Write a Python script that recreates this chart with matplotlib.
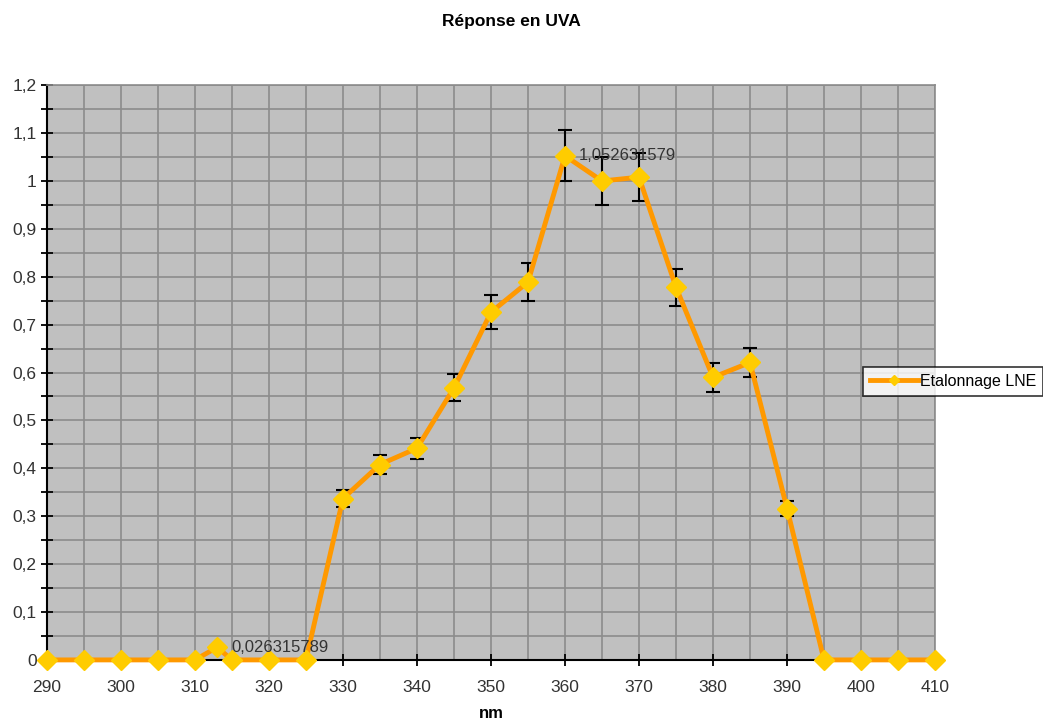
import numpy as np
import matplotlib.pyplot as plt
from matplotlib.ticker import MultipleLocator, FuncFormatter

plt.rcParams['font.family'] = ['Liberation Sans', 'DejaVu Sans']

# donnees
nm = [290, 295, 300, 305, 310, 313, 315, 320, 325, 330, 335, 340, 345, 350,
      355, 360, 365, 370, 375, 380, 385, 390, 395, 400, 405, 410]
reponse = [0, 0, 0, 0, 0, 0.026315789, 0, 0, 0, 0.337, 0.408, 0.442, 0.568,
           0.726, 0.789, 1.052631579, 1.0, 1.008, 0.778, 0.59, 0.621, 0.316,
           0, 0, 0, 0]
erreur = [0, 0, 0, 0, 0, 0, 0, 0, 0, 0.017, 0.02, 0.022, 0.028, 0.036, 0.039,
          0.053, 0.05, 0.05, 0.039, 0.03, 0.031, 0.016, 0, 0, 0, 0]
etiquettes = {313: '0,026315789', 360: '1,052631579'}

fig = plt.figure(figsize=(10.43, 7.22), dpi=100)
ax = fig.add_axes([0.045, 0.086, 0.8515, 0.796])
ax.set_facecolor('#C0C0C0')

x = np.array(nm)
y = np.array(reponse)
e = np.array(erreur)
m = e > 0
ax.errorbar(x[m], y[m], yerr=e[m], fmt='none', ecolor='black', elinewidth=1.5,
            capsize=5, capthick=1.5, zorder=3)
ax.plot(x, y, color='#FF9900', lw=3.5, marker='D', markersize=10,
        markerfacecolor='#FFCC00', markeredgecolor='#FFCC00',
        label='Etalonnage LNE', zorder=4, clip_on=False)

for xi, txt in etiquettes.items():
    yi = reponse[nm.index(xi)]
    ax.annotate(txt, (xi, yi), xytext=(10, 0), textcoords='offset points',
                fontsize=12, color='#333333', va='center', zorder=5)

ax.set_xlim(290, 410)
ax.set_ylim(0, 1.2)
ax.xaxis.set_major_locator(MultipleLocator(10))
ax.xaxis.set_minor_locator(MultipleLocator(5))
ax.yaxis.set_major_locator(MultipleLocator(0.1))
ax.yaxis.set_minor_locator(MultipleLocator(0.05))
ax.yaxis.set_major_formatter(FuncFormatter(lambda v, p: ('%g' % round(v, 2)).replace('.', ',')))
ax.grid(True, which='both', color='#8C8C8C', lw=1.2)
ax.set_axisbelow(True)
ax.tick_params(axis='x', which='major', direction='inout', length=9, width=1.3,
               labelsize=12.5, labelcolor='#333333', pad=10)
ax.tick_params(axis='x', which='minor', length=0)
ax.tick_params(axis='y', which='both', direction='inout', length=9, width=1.3,
               labelsize=12.5, labelcolor='#333333', pad=3)
for s in ['top', 'right']:
    ax.spines[s].set_color('#8C8C8C')
    ax.spines[s].set_linewidth(1.2)
for s in ['left', 'bottom']:
    ax.spines[s].set_color('black')
    ax.spines[s].set_linewidth(1.5)

ax.set_xlabel('nm', fontsize=12, fontweight='bold', labelpad=8)
fig.suptitle('Réponse en UVA', x=0.49, y=0.98, fontsize=12.5, fontweight='bold')

leg = fig.legend(loc='center left', bbox_to_anchor=(0.827, 0.472), fontsize=11.5,
                 frameon=True, fancybox=False, edgecolor='black',
                 handlelength=3.0, borderpad=0.45, handletextpad=0.15,
                 markerscale=0.55, borderaxespad=0)
leg.get_frame().set_linewidth(1.2)

fig.savefig('out.png', dpi=100)
